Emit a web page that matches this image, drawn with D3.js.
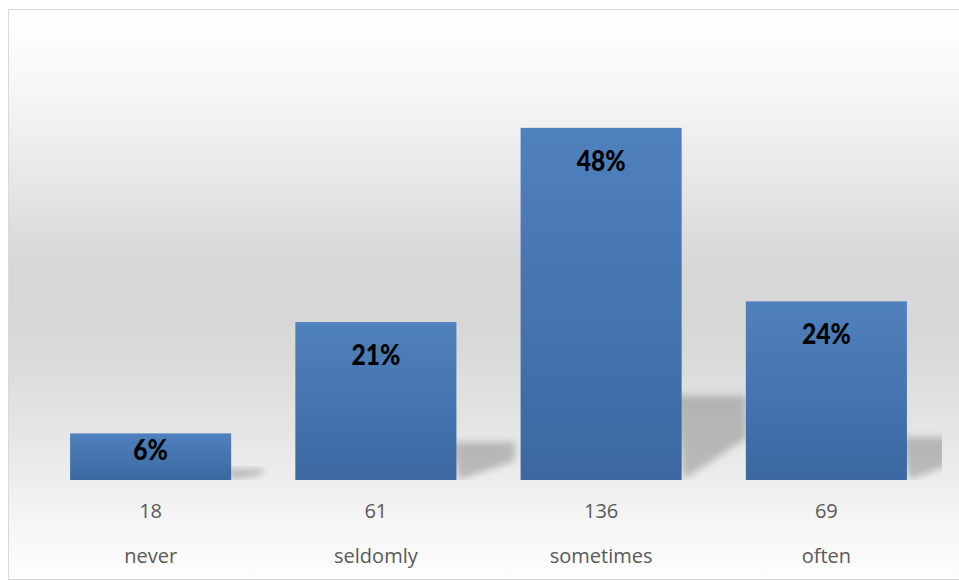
<!DOCTYPE html>
<html><head><meta charset="utf-8">
<script src="https://cdn.jsdelivr.net/npm/d3@7"></script>
<style>html,body{margin:0;padding:0;background:#fff;}svg{display:block;}</style>
</head><body>
<script>
const categories = ["never", "seldomly", "sometimes", "often"];
const counts = [18, 61, 136, 69];
const percentLabels = ["6%", "21%", "48%", "24%"];

const W = 959, H = 581;
const svg = d3.select("body").append("svg").attr("width", W).attr("height", H);
const defs = svg.append("defs");

const bg = defs.append("linearGradient").attr("id", "bg").attr("x1", 0).attr("y1", 0).attr("x2", 0).attr("y2", 1);
[[0, "#ffffff"], [0.16, "#f5f5f5"], [0.45, "#d7d7d7"], [0.58, "#d8d8d8"], [0.74, "#e5e5e5"], [0.83, "#eeeeee"], [0.9, "#f6f6f6"], [1, "#fdfdfd"]]
  .forEach(([o, c]) => bg.append("stop").attr("offset", o).attr("stop-color", c));

const bar = defs.append("linearGradient").attr("id", "bar").attr("x1", 0).attr("y1", 0).attr("x2", 0).attr("y2", 1);
bar.append("stop").attr("offset", 0).attr("stop-color", "#4f81bd");
bar.append("stop").attr("offset", 1).attr("stop-color", "#3b68a1");

const blur = defs.append("filter").attr("id", "blur").attr("x", "-20%").attr("y", "-20%").attr("width", "140%").attr("height", "140%");
blur.append("feGaussianBlur").attr("stdDeviation", 3.5);

defs.append("clipPath").attr("id", "plotclip").append("rect").attr("x", 38).attr("y", 20).attr("width", 904).attr("height", 460);

// chart frame
svg.append("rect").attr("x", 8.5).attr("y", 9.5).attr("width", 960).attr("height", 570)
  .attr("fill", "url(#bg)").attr("stroke", "#d9d9d9").attr("stroke-width", 1);

const x = d3.scaleBand().domain(categories).range([38, 939]).paddingInner(0.285).paddingOuter(0.1425);
const y = d3.scaleLinear().domain([0, 150]).range([480, 91.6]);

// perspective shadows
const sh = svg.append("g").attr("clip-path", "url(#plotclip)");
sh.selectAll("polygon").data(categories).join("polygon")
  .attr("points", (c, i) => {
    const x1 = x(c) + x.bandwidth();
    const b = y(0);
    const h = b - y(counts[i]);
    const s = 0.24 * h;
    const w = 65 * (1 - Math.exp(-h / 70));
    return [[x1 - 6, b - s], [x1 + w, b - s], [x1 + w, b - s * 0.5], [x1 + 2, b]].map(p => p.join(",")).join(" ");
  })
  .attr("fill", "#8f8f8f").attr("opacity", 0.55).attr("filter", "url(#blur)");

// bars
svg.append("g").selectAll("rect").data(categories).join("rect")
  .attr("x", c => x(c)).attr("width", x.bandwidth())
  .attr("y", (c, i) => y(counts[i])).attr("height", (c, i) => y(0) - y(counts[i]))
  .attr("fill", "url(#bar)");

// percentage labels (slightly condensed heavy)
svg.append("g").selectAll("text").data(categories).join("text")
  .attr("transform", (c, i) => {
    const h = y(0) - y(counts[i]);
    const ty = y(counts[i]) + Math.min(43, h - 20);
    return `translate(${x(c) + x.bandwidth() / 2},${ty}) scale(0.88,1)`;
  })
  .attr("text-anchor", "middle")
  .attr("font-family", "Lato, 'Open Sans', sans-serif").attr("font-weight", 900).attr("font-size", 28)
  .attr("fill", "#000").text((c, i) => percentLabels[i]);

// count row
svg.append("g").selectAll("text").data(categories).join("text")
  .attr("x", c => x(c) + x.bandwidth() / 2).attr("y", 518)
  .attr("text-anchor", "middle")
  .attr("font-family", "'Open Sans', sans-serif").attr("font-size", 20)
  .attr("fill", "#595959").text((c, i) => counts[i]);

// category axis labels
const axis = d3.axisBottom(x).tickSize(0).tickPadding(0);
const ax = svg.append("g").attr("transform", "translate(0,563)").call(axis);
ax.select(".domain").remove();
ax.selectAll("text").attr("dy", 0).attr("font-family", "'Open Sans', sans-serif").attr("font-size", 20).attr("fill", "#595959");
</script>
</body></html>
